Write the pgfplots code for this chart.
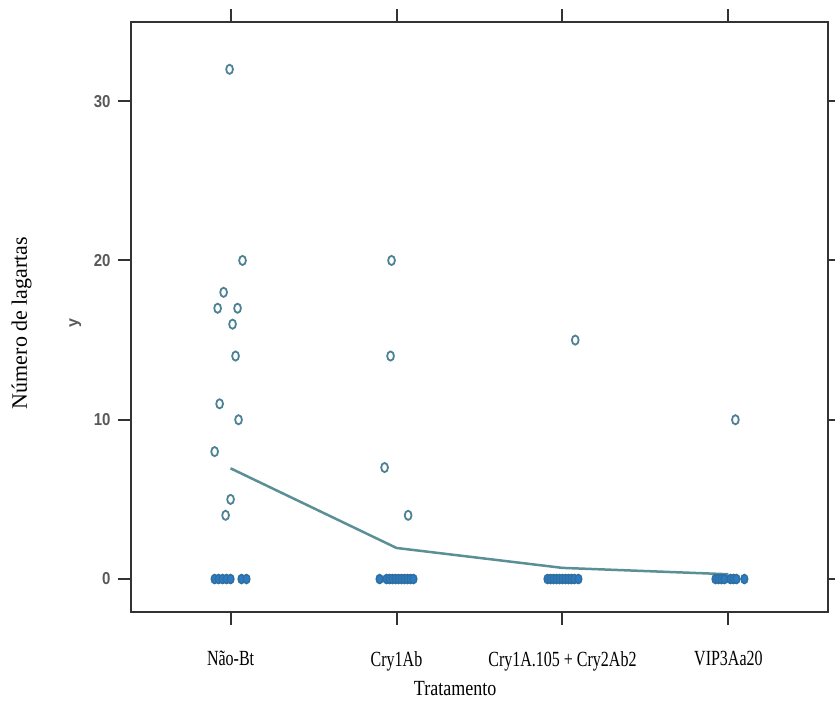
\documentclass[border=0pt]{standalone}
\usepackage{pgfplots}
\pgfplotsset{compat=1.18}
\usepackage{fontspec}
\setmainfont{Liberation Serif}
\setsansfont{Liberation Sans}
\definecolor{ptcol}{HTML}{4D8296}
\definecolor{zerocol}{HTML}{2B7BC4}
\definecolor{zerodraw}{HTML}{2F6F9F}
\definecolor{linecol}{HTML}{5B8F96}
\definecolor{framecol}{HTML}{333333}

\begin{document}
\begin{tikzpicture}
\useasboundingbox (0,0) rectangle (835pt,702pt);
\begin{axis}[scale only axis,width=697pt,height=590pt,at={(131pt,90pt)},anchor=south west,
  xmin=0.4,xmax=4.6,ymin=-2.07,ymax=34.97,
  xtick={1,2,3,4},xticklabels={Não-Bt,Cry1Ab,Cry1A.105 + Cry2Ab2,VIP3Aa20},
  ytick={0,10,20,30},
  /pgf/number format/assume math mode=true,
  tick align=outside,tick pos=both,ticklabel pos=left,
  major tick length=13pt,
  axis line style={line width=2.6pt,framecol},
  every tick/.style={line width=2pt,framecol},
  xticklabel style={font=\fontsize{16}{18}\selectfont,yscale=1.35,yshift=-16pt},
  yticklabel style={font=\sffamily\bfseries\fontsize{15}{17}\selectfont,text=black!65,yscale=1.15,xshift=-4pt},
  ylabel={y},ylabel style={font=\sffamily\bfseries\fontsize{16}{18}\selectfont,text=black!65,at={(axis description cs:-0.08,0.49)},anchor=center},
  clip=false]
% smoothed mean line
\addplot[linecol,line width=2.5pt] coordinates {(1,6.95) (2,1.95) (3,0.7) (4,0.3)};
% non-zero counts
\addplot[only marks,mark=o,mark size=3.4pt,mark options={ptcol,line width=1.8pt,yscale=1.35}] coordinates {
 (0.994,32) (1.072,20) (0.958,18) (0.922,17) (1.042,17) (1.012,16) (1.030,14) (0.934,11) (1.048,10) (0.904,8) (1.0,5) (0.970,4)
 (1.970,20) (1.964,14) (1.928,7) (2.070,4)
 (3.077,15)
 (4.042,10)};
% zero counts
\addplot[only marks,mark=*,mark size=3.4pt,mark options={draw=zerodraw,fill=zerocol,line width=1.4pt,yscale=1.35}] coordinates {
 (0.904,0) (0.928,0) (0.952,0) (0.976,0) (1.0,0) (1.066,0) (1.096,0)
 (1.898,0) (1.940,0) (1.958,0) (1.976,0) (1.994,0) (2.012,0) (2.030,0) (2.048,0) (2.066,0) (2.084,0) (2.102,0)
 (2.910,0) (2.928,0) (2.946,0) (2.964,0) (2.982,0) (3.000,0) (3.018,0) (3.036,0) (3.054,0) (3.072,0) (3.096,0)
 (3.922,0) (3.940,0) (3.958,0) (3.976,0) (4.012,0) (4.030,0) (4.048,0) (4.096,0)};
\node[font=\fontsize{22}{24}\selectfont,rotate=90] at (axis description cs:-0.157,0.49) {Número de lagartas};
\node[font=\fontsize{18}{20}\selectfont,yscale=1.2,anchor=south,inner sep=0pt] at (axis description cs:0.465,-0.142) {Tratamento};
\end{axis}
\end{tikzpicture}
\end{document}
